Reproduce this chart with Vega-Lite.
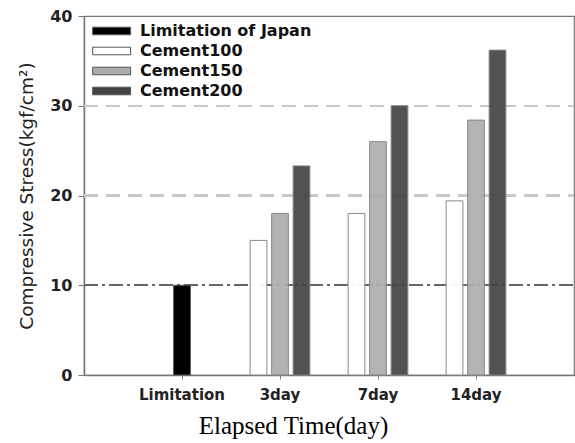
{
  "$schema": "https://vega.github.io/schema/vega-lite/v6.json",
  "width": 490,
  "height": 359,
  "autosize": {"type": "none"},
  "padding": {"left": 84, "top": 16, "right": 1, "bottom": 68},
  "background": "white",
  "config": {
    "view": {"stroke": "#777", "strokeWidth": 1.2},
    "font": "DejaVu Sans"
  },
  "data": {
    "values": [
      {"time": "Limitation", "series": "Limitation of Japan", "stress": 10},
      {"time": "3day", "series": "Cement100", "stress": 15.0},
      {"time": "3day", "series": "Cement150", "stress": 18.0},
      {"time": "3day", "series": "Cement200", "stress": 23.3},
      {"time": "7day", "series": "Cement100", "stress": 18.0},
      {"time": "7day", "series": "Cement150", "stress": 26.0},
      {"time": "7day", "series": "Cement200", "stress": 30.0},
      {"time": "14day", "series": "Cement100", "stress": 19.4},
      {"time": "14day", "series": "Cement150", "stress": 28.4},
      {"time": "14day", "series": "Cement200", "stress": 36.2}
    ]
  },
  "encoding": {
    "x": {
      "field": "time",
      "type": "nominal",
      "sort": ["Limitation", "3day", "7day", "14day"],
      "scale": {"paddingInner": 0.39, "paddingOuter": 0.695},
      "axis": {
        "title": "Elapsed  Time(day)",
        "titleFont": "Liberation Serif",
        "titleFontSize": 25,
        "titleFontWeight": "normal",
        "titleColor": "#000",
        "titleX": 209,
        "titleY": 58,
        "titleAlign": "center",
        "titleBaseline": "alphabetic",
        "labelAngle": 0,
        "labelFontSize": 15,
        "labelFontWeight": "bold",
        "labelColor": "#222",
        "labelPadding": 8,
        "tickSize": 4,
        "tickColor": "#777",
        "domainColor": "#777",
        "domainWidth": 1.5
      }
    },
    "y": {
      "field": "stress",
      "type": "quantitative",
      "scale": {"domain": [0, 40], "nice": false},
      "axis": {
        "title": "Compressive Stress(kgf/cm²)",
        "titleFontSize": 18.5,
        "titleFontWeight": "normal",
        "titleColor": "#222",
        "titlePadding": 13,
        "values": [0, 10, 20, 30, 40],
        "labelFontSize": 16,
        "labelFontWeight": "bold",
        "labelColor": "#222",
        "labelPadding": 6,
        "tickSize": 6,
        "tickColor": "#777",
        "domainColor": "#777",
        "domainWidth": 1.5,
        "grid": false
      }
    }
  },
  "layer": [
    {
      "mark": {"type": "rule", "color": "#c8c8c8", "strokeWidth": 1.3, "strokeDash": [14, 8]},
      "encoding": {"y": {"datum": 20}, "x": {"value": 0}, "x2": {"value": 490}}
    },
    {
      "mark": {"type": "rule", "color": "#c8c8c8", "strokeWidth": 1.3, "strokeDash": [14, 8]},
      "encoding": {"y": {"datum": 30}, "x": {"value": 0}, "x2": {"value": 490}}
    },
    {
      "mark": {"type": "rule", "color": "#666", "strokeWidth": 1.3, "strokeDash": [14, 4, 3, 4]},
      "encoding": {"y": {"datum": 10}, "x": {"value": 0}, "x2": {"value": 490}}
    },
    {
      "transform": [{"filter": "datum.series !== 'Limitation of Japan'"}],
      "mark": {"type": "bar", "stroke": "#888", "strokeWidth": 1, "fillOpacity": 0.92},
      "encoding": {
        "xOffset": {
          "field": "series",
          "type": "nominal",
          "sort": ["Cement100", "Cement150", "Cement200"],
          "scale": {"paddingInner": 0.22, "paddingOuter": 0}
        },
        "color": {
          "field": "series",
          "type": "nominal",
          "scale": {
            "domain": ["Limitation of Japan", "Cement100", "Cement150", "Cement200"],
            "range": ["#000000", "#ffffff", "#acacac", "#434343"]
          },
          "legend": {
            "title": null,
            "orient": "none",
            "legendX": 7,
            "legendY": 7,
            "padding": 0,
            "symbolType": "M-1,-0.6H5V0.6H-1Z",
            "symbolSize": 160,
            "symbolStrokeColor": "#999",
            "symbolStrokeWidth": 1,
            "symbolOpacity": 1,
            "labelFont": "DejaVu Sans",
            "labelFontWeight": "bold",
            "labelFontSize": 16,
            "labelLimit": 400,
            "labelColor": "#111",
            "labelOffset": 33,
            "rowPadding": 4
          }
        }
      }
    },
    {
      "transform": [{"filter": "datum.series === 'Limitation of Japan'"}],
      "mark": {"type": "bar", "stroke": "#555", "strokeWidth": 1, "width": {"band": 0.28}},
      "encoding": {
        "color": {"field": "series", "type": "nominal"}
      }
    }
  ]
}
